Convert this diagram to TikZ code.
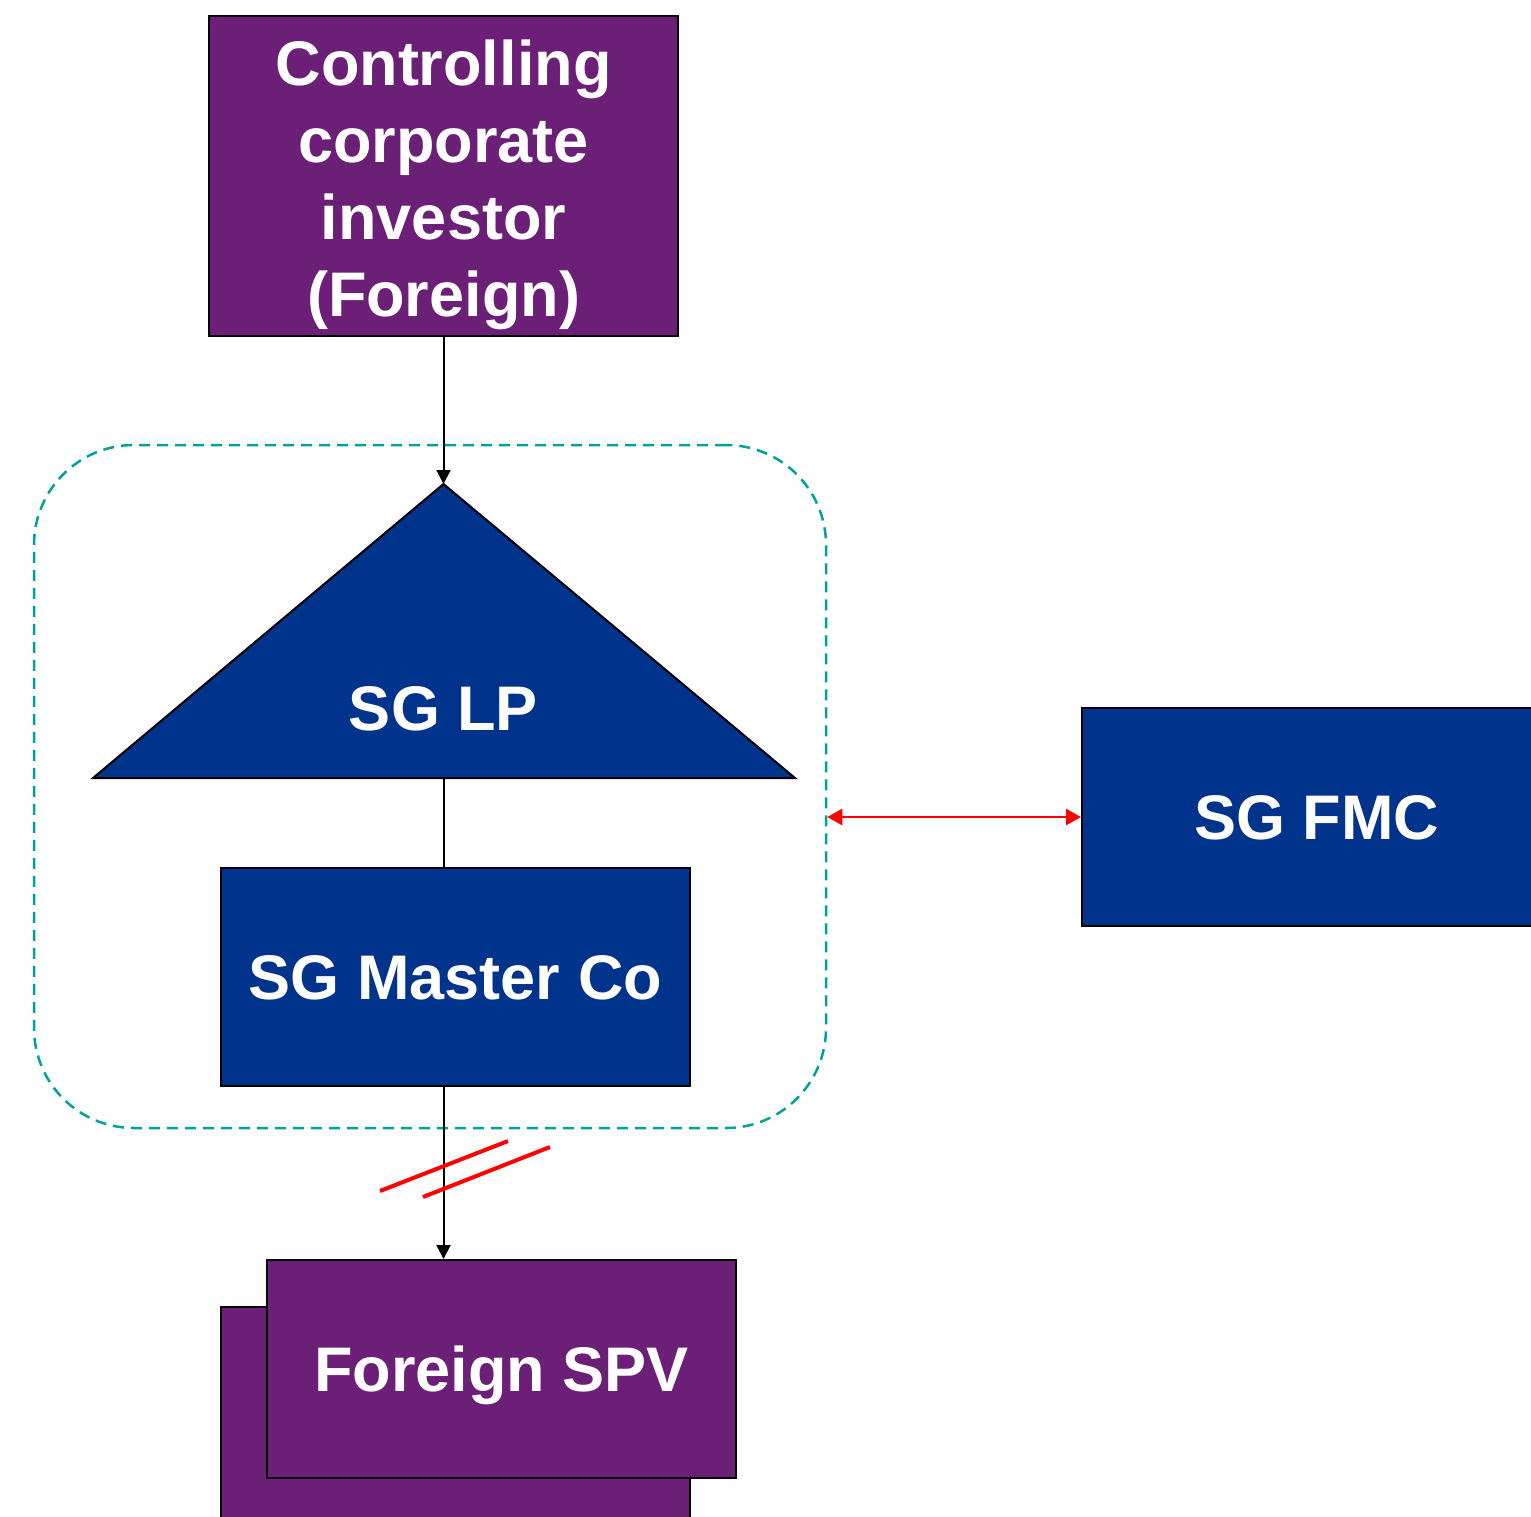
\documentclass[tikz,border=0pt]{standalone}
\usepackage{fontspec}
\setmainfont{Liberation Sans}
\usetikzlibrary{arrows.meta}
\definecolor{entpurple}{RGB}{107,31,119}
\definecolor{entblue}{RGB}{0,51,140}
\definecolor{fundteal}{RGB}{0,161,154}
\definecolor{cutred}{RGB}{255,0,0}

\begin{document}
\begin{tikzpicture}[x=1pt,y=-1pt,
  entity/.style={draw=black, line width=2pt, text=white,
    font=\fontsize{63}{77}\selectfont\bfseries, align=center,
    inner sep=0pt, minimum width=469pt, minimum height=218pt, text depth=0pt},
  purplebox/.style={entity, fill=entpurple},
  bluebox/.style={entity, fill=entblue},
  conn/.style={draw=black, line width=2pt, -{Triangle[length=14pt,width=14pt]}},
  plainconn/.style={draw=black, line width=2pt},
  twoway/.style={draw=cutred, line width=2.5pt,
    {Triangle[length=15pt,width=16pt]}-{Triangle[length=15pt,width=16pt]}},
  cutmark/.style={draw=cutred, line width=4pt},
  fundline/.style={draw=fundteal, line width=2.5pt, dash pattern=on 11pt off 7pt,
    rounded corners=100pt, minimum width=792pt, minimum height=683pt, inner sep=0pt}
]
\useasboundingbox (0,0) rectangle (1531,1516);
\clip (0,0) rectangle (1531,1516);

% fund perimeter
\node[fundline] (fund) at (430,786.5) {};

% top investor
\node[purplebox, minimum height=320pt, text height=280pt] (top) at (443.5,176)
  {Controlling\\corporate\\investor\\(Foreign)};

% limited partnership triangle
\coordinate (lpapex) at (443.5,484);
\coordinate (lpbase) at (443.5,778);
\draw[fill=entblue, draw=black, line width=2pt, line join=miter]
  (93,778) -- (lpapex) -- (795,778) -- cycle;
\node[text=white, font=\fontsize{63}{77}\selectfont\bfseries, inner sep=0pt,
  text depth=0pt] (lp) at (443.5,708) {SG LP};

% master company
\node[bluebox] (master) at (455.5,977) {SG Master Co};

% fund management company
\node[bluebox] (fmc) at (1316.5,817) {SG FMC};

% foreign SPVs (stacked)
\node[purplebox] (spvback) at (455.5,1416) {};
\node[purplebox] (spv) at (501.5,1369) {Foreign SPV};

% connectors
\draw[conn] (top.south) -- (lpapex);
\draw[plainconn] (lpbase) -- (lpbase |- master.north);
\draw[conn] (top.south |- master.south) -- (top.south |- spv.north);
\draw[twoway] (fund.east |- fmc.west) -- (fmc.west);

% break marks
\draw[cutmark] (380,1191) -- (508,1141);
\draw[cutmark] (423,1197) -- (550,1147);
\end{tikzpicture}
\end{document}
